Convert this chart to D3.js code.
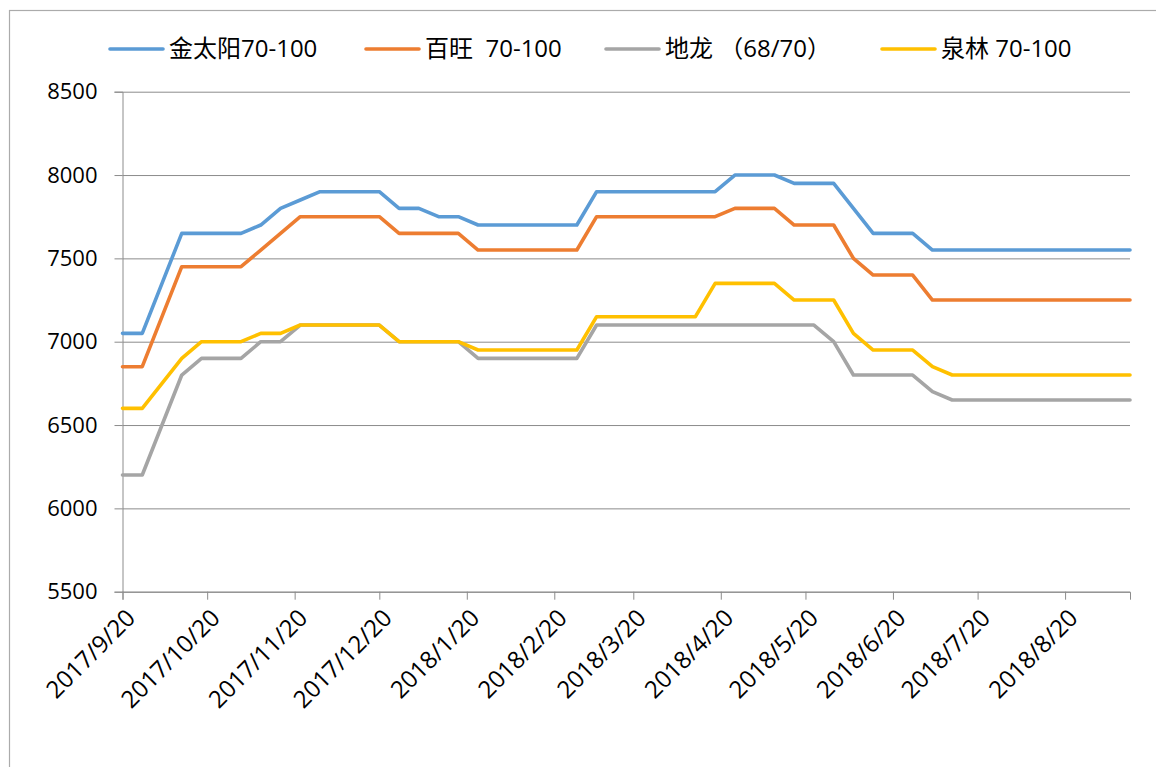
<!DOCTYPE html>
<html>
<head>
<meta charset="utf-8">
<script src="https://cdn.jsdelivr.net/npm/d3@7"></script>
<style>
  body { margin: 0; background: #fff; }
  svg text { white-space: pre; }
</style>
</head>
<body>
<div id="chart"></div>
<script>
// weekly price dates
const dates = [
  "2017-09-20", "2017-09-27", "2017-10-04", "2017-10-11", "2017-10-18", "2017-10-25",
  "2017-11-01", "2017-11-08", "2017-11-15", "2017-11-22", "2017-11-29",
  "2017-12-06", "2017-12-13", "2017-12-20", "2017-12-27",
  "2018-01-03", "2018-01-10", "2018-01-17", "2018-01-24", "2018-01-31",
  "2018-02-07", "2018-02-14", "2018-02-21", "2018-02-28",
  "2018-03-07", "2018-03-14", "2018-03-21", "2018-03-28",
  "2018-04-04", "2018-04-11", "2018-04-18", "2018-04-25",
  "2018-05-02", "2018-05-09", "2018-05-16", "2018-05-23", "2018-05-30",
  "2018-06-06", "2018-06-13", "2018-06-20", "2018-06-27",
  "2018-07-04", "2018-07-11", "2018-07-18", "2018-07-25",
  "2018-08-01", "2018-08-08", "2018-08-15", "2018-08-22", "2018-08-29",
  "2018-09-05", "2018-09-12"
];

const jinTaiYang = [7050, 7050, 7350, 7650, 7650, 7650, 7650, 7700, 7800, 7850, 7900, 7900, 7900, 7900,
  7800, 7800, 7750, 7750, 7700, 7700, 7700, 7700, 7700, 7700, 7900, 7900, 7900, 7900, 7900, 7900, 7900,
  8000, 8000, 8000, 7950, 7950, 7950, 7800, 7650, 7650, 7650,
  7550, 7550, 7550, 7550, 7550, 7550, 7550, 7550, 7550, 7550, 7550];

const baiWang = [6850, 6850, 7150, 7450, 7450, 7450, 7450, 7550, 7650, 7750, 7750, 7750, 7750, 7750,
  7650, 7650, 7650, 7650, 7550, 7550, 7550, 7550, 7550, 7550, 7750, 7750, 7750, 7750, 7750, 7750, 7750,
  7800, 7800, 7800, 7700, 7700, 7700, 7500, 7400, 7400, 7400,
  7250, 7250, 7250, 7250, 7250, 7250, 7250, 7250, 7250, 7250, 7250];

const diLong = [6200, 6200, 6500, 6800, 6900, 6900, 6900, 7000, 7000, 7100, 7100, 7100, 7100, 7100,
  7000, 7000, 7000, 7000, 6900, 6900, 6900, 6900, 6900, 6900, 7100, 7100, 7100, 7100, 7100, 7100, 7100,
  7100, 7100, 7100, 7100, 7100, 7000, 6800, 6800, 6800, 6800,
  6700, 6650, 6650, 6650, 6650, 6650, 6650, 6650, 6650, 6650, 6650];

const quanLin = [6600, 6600, 6750, 6900, 7000, 7000, 7000, 7050, 7050, 7100, 7100, 7100, 7100, 7100,
  7000, 7000, 7000, 7000, 6950, 6950, 6950, 6950, 6950, 6950, 7150, 7150, 7150, 7150, 7150, 7150, 7350,
  7350, 7350, 7350, 7250, 7250, 7250, 7050, 6950, 6950, 6950,
  6850, 6800, 6800, 6800, 6800, 6800, 6800, 6800, 6800, 6800, 6800];

const seriesNames = ["金太阳70-100", "百旺  70-100", "地龙 （68/70）", "泉林 70-100"];
const seriesValues = [jinTaiYang, baiWang, diLong, quanLin];
const colors = ["#5B9BD5", "#ED7D31", "#A5A5A5", "#FFC000"];

const yTicks = [5500, 6000, 6500, 7000, 7500, 8000, 8500];
const xTickDates = ["2017-09-20", "2017-10-20", "2017-11-20", "2017-12-20", "2018-01-20", "2018-02-20",
  "2018-03-20", "2018-04-20", "2018-05-20", "2018-06-20", "2018-07-20", "2018-08-20"];

const width = 1156, height = 767;
const plot = { left: 122.5, right: 1130, top: 91.7, bottom: 591.7 };
const legendX = [110, 366, 606, 882];
const font = "'Open Sans', 'Noto Sans CJK SC', sans-serif";

const parse = d3.timeParse("%Y-%m-%d");
const fmt = d3.timeFormat("%Y/%-m/%-d");
const xDates = dates.map(parse);

const svg = d3.select("#chart").append("svg")
    .attr("width", width)
    .attr("height", height);

svg.append("rect").attr("width", width).attr("height", height).attr("fill", "#fff");
// chart frame
svg.append("rect")
    .attr("x", 9.5).attr("y", 10.5)
    .attr("width", width + 20).attr("height", height + 20)
    .attr("fill", "none").attr("stroke", "#ababab").attr("stroke-width", 1.2);

const x = d3.scaleTime()
    .domain(d3.extent(xDates))
    .range([plot.left, plot.right]);
const y = d3.scaleLinear()
    .domain([5500, 8500])
    .range([plot.bottom, plot.top]);

// gridlines
svg.append("g")
    .attr("transform", `translate(${plot.left},0)`)
    .call(d3.axisLeft(y).tickValues(yTicks).tickSize(-(plot.right - plot.left)).tickFormat(""))
    .call(g => g.select(".domain").remove())
    .call(g => g.selectAll("line").attr("stroke", "#8c8c8c").attr("stroke-width", 1));

// y axis
const yAxis = svg.append("g")
    .attr("transform", `translate(${plot.left},0)`)
    .call(d3.axisLeft(y).tickValues(yTicks).tickSize(8).tickPadding(17).tickFormat(d3.format("d")));
yAxis.select(".domain").attr("stroke", "#8c8c8c");
yAxis.selectAll("line").attr("stroke", "#8c8c8c");
yAxis.selectAll("text")
    .attr("fill", "#000")
    .style("font-family", font)
    .style("font-size", "22px");

// x axis
const xAxis = svg.append("g")
    .attr("transform", `translate(0,${plot.bottom})`)
    .call(d3.axisBottom(x).tickValues(xTickDates.map(parse)).tickSize(8).tickFormat(fmt));
xAxis.select(".domain").attr("stroke", "#8c8c8c");
xAxis.selectAll("line").attr("stroke", "#8c8c8c");
xAxis.selectAll("text")
    .attr("fill", "#000")
    .style("font-family", font)
    .style("font-size", "24px")
    .attr("text-anchor", "end")
    .attr("dy", "0.35em")
    .attr("transform", "translate(0,14) rotate(-45)");

// lines
const line = d3.line()
    .x((d, i) => x(xDates[i]))
    .y(d => y(d));

seriesValues.forEach((vals, k) => {
    svg.append("path")
        .datum(vals)
        .attr("fill", "none")
        .attr("stroke", colors[k])
        .attr("stroke-width", 3.6)
        .attr("stroke-linejoin", "round")
        .attr("stroke-linecap", "round")
        .attr("d", line);
});

// legend
const legend = svg.append("g");
seriesNames.forEach((name, k) => {
    const g = legend.append("g").attr("transform", `translate(${legendX[k]},49)`);
    g.append("line")
        .attr("x1", 0).attr("x2", 53)
        .attr("stroke", colors[k]).attr("stroke-width", 3.6)
        .attr("stroke-linecap", "round");
    g.append("text")
        .attr("x", 59)
        .attr("dy", "0.35em")
        .style("font-family", font)
        .style("font-size", "24px")
        .text(name);
});
</script>
</body>
</html>
